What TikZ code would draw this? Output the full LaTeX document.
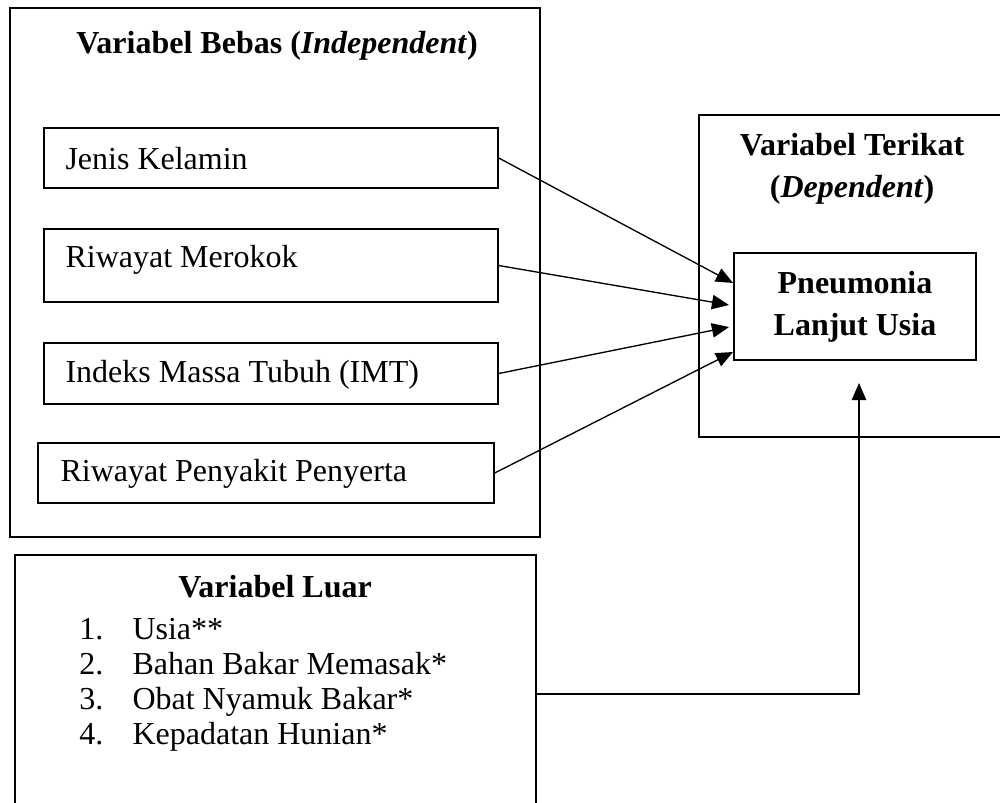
\documentclass[tikz,border=0pt]{standalone}
\usepackage{fontspec}
\setmainfont{Liberation Serif}
\usetikzlibrary{arrows.meta,fit}
\begin{document}
\begin{tikzpicture}[x=0.375pt,y=-0.375pt,
  box/.style={draw, line width=0.55pt, inner sep=0pt},
  frame/.style={draw, line width=0.55pt},
  lbl/.style={font=\fontsize{12}{14}\selectfont, inner sep=0pt},
  ttl/.style={font=\fontsize{12}{15.75}\selectfont\bfseries, inner sep=0pt, align=center},
  arr/.style={line width=0.5pt, -{Triangle[length=6.4pt,width=5.4pt]}}]
\useasboundingbox (0,0) rectangle (1000,803);
% outer box: independent variables
\node[box, fit={(10,8)(540,537)}] (bebas) {};
\node[ttl] (tbebas) at (277,46) {Variabel Bebas (\textit{Independent})};
% variable boxes
\node[box, fit={(44,128)(498,188)}] (jk) {};
\node[lbl, anchor=west] (tjk) at (65,159) {Jenis Kelamin};
\node[box, fit={(44,229)(498,302)}] (rm) {};
\node[lbl, anchor=west] (trm) at (65,260) {Riwayat Merokok};
\node[box, fit={(44,343)(498,404)}] (imt) {};
\node[lbl, anchor=west] (timt) at (65,375) {Indeks Massa Tubuh (IMT)};
\node[box, fit={(38,443)(494,503)}] (rp) {};
\node[lbl, anchor=west] (trp) at (60,474) {Riwayat Penyakit Penyerta};
% dependent frame (open to the right edge)
\coordinate (d1) at (1000,115);
\coordinate (d2) at (699,115);
\coordinate (d3) at (699,437);
\coordinate (d4) at (1000,437);
\draw[frame] (d1) -- (d2) -- (d3) -- (d4);
\node[ttl] (tterikat) at (852,169) {Variabel Terikat\\(\textit{Dependent})};
\node[box, fit={(734,253)(976,360)}] (pn) {};
\node[ttl] (tpn) at (855,307) {Pneumonia\\Lanjut Usia};
% arrow targets
\coordinate (t1) at (733,283);
\coordinate (t2) at (729,305);
\coordinate (t3) at (729,327);
\coordinate (t4) at (733,352);
\coordinate (t5) at (859,383);
\draw[arr] (jk.east) -- (t1);
\draw[arr] (rm.east) -- (t2);
\draw[arr] (imt.east) -- (t3);
\draw[arr] (rp.east) -- (t4);
% external variables (open at the bottom edge)
\coordinate (e1) at (15,803);
\coordinate (e2) at (15,555);
\coordinate (e3) at (536,555);
\coordinate (e4) at (536,803);
\draw[frame] (e1) -- (e2) -- (e3) -- (e4);
\node[ttl] (tluar) at (275,587) {Variabel Luar};
\node[lbl, anchor=base east] (n1) at (104,639) {1.};
\node[lbl, anchor=base west] (l1) at (132,639) {Usia**};
\node[lbl, anchor=base east] (n2) at (104,674) {2.};
\node[lbl, anchor=base west] (l2) at (132,674) {Bahan Bakar Memasak*};
\node[lbl, anchor=base east] (n3) at (104,709) {3.};
\node[lbl, anchor=base west] (l3) at (132,709) {Obat Nyamuk Bakar*};
\node[lbl, anchor=base east] (n4) at (104,744) {4.};
\node[lbl, anchor=base west] (l4) at (132,744) {Kepadatan Hunian*};
\coordinate (lo) at (536,694);
\draw[arr] (lo) -| (t5);
\end{tikzpicture}
\end{document}
